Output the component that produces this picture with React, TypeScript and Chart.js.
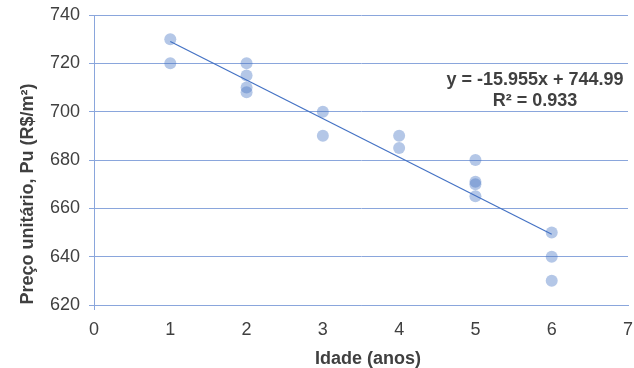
import React, { useEffect, useRef } from "react";
import { Chart, registerables } from "chart.js";

Chart.register(...registerables);

const idade: number[] = [1, 1, 2, 2, 2, 2, 3, 3, 4, 4, 5, 5, 5, 5, 6, 6, 6];
const precoUnitario: number[] = [730, 720, 720, 715, 710, 708, 700, 690, 690, 685, 680, 671, 670, 665, 650, 640, 630];
const trendSlope = -15.955;
const trendIntercept = 744.99;
const trendX: number[] = [1, 6];
const equationLines: string[] = ["y = -15.955x + 744.99", "R² = 0.933"];
const xTitle = "Idade (anos)";
const yTitle = "Preço unitário, Pu (R$/m²)";

const AXIS_COLOR = "#8aa6dc";
const TEXT_COLOR = "#404040";
const FONT_FAMILY = "'Liberation Sans', Arial, sans-serif";

export default function App() {
  const ref = useRef<HTMLCanvasElement | null>(null);

  useEffect(() => {
    document.body.style.margin = "0";
    const canvas = ref.current;
    if (!canvas) return;

    const textPlugin = {
      id: "textPlugin",
      afterDraw(chart: any) {
        const ctx = chart.ctx;
        const area = chart.chartArea;
        ctx.save();
        ctx.fillStyle = TEXT_COLOR;
        ctx.font = `bold 18px ${FONT_FAMILY}`;
        ctx.textAlign = "center";
        ctx.textBaseline = "alphabetic";
        // equation
        const ex = area.right - 93;
        ctx.fillText(equationLines[0], ex, area.top + 70);
        ctx.fillText(equationLines[1], ex, area.top + 91);
        // x title
        ctx.fillText(xTitle, (area.left + area.right) / 2 + 7, 364);
        // y title
        ctx.translate(33, 194);
        ctx.rotate(-Math.PI / 2);
        ctx.fillText(yTitle, 0, 0);
        ctx.restore();
      },
    };

    const chart = new Chart(canvas, {
      type: "scatter",
      data: {
        datasets: [
          {
            type: "scatter",
            data: idade.map((x, i) => ({ x, y: precoUnitario[i] })),
            backgroundColor: "rgba(68,114,196,0.4)",
            borderWidth: 0,
            pointRadius: 6,
            pointHoverRadius: 6,
            order: 2,
          },
          {
            type: "line",
            data: trendX.map((x) => ({ x, y: trendSlope * x + trendIntercept })),
            borderColor: "#4472C4",
            borderWidth: 1.2,
            pointRadius: 0,
            fill: false,
            order: 1,
          } as any,
        ],
      },
      options: {
        animation: false,
        responsive: false,
        maintainAspectRatio: false,
        layout: { padding: { left: 0, right: 5, top: 15, bottom: 0 } },
        plugins: {
          legend: { display: false },
          tooltip: { enabled: false },
        },
        scales: {
          x: {
            type: "linear",
            min: 0,
            max: 7,
            ticks: {
              stepSize: 1,
              color: TEXT_COLOR,
              font: { family: FONT_FAMILY, size: 18 },
              padding: 9,
            },
            grid: {
              drawOnChartArea: false,
              drawTicks: true,
              tickLength: 5,
              color: (c: any) => (c.index === 0 ? AXIS_COLOR : "rgba(0,0,0,0)"),
            },
            border: { display: true, color: AXIS_COLOR, width: 1 },
            afterFit: (scale: any) => {
              scale.height = 63;
              scale.paddingLeft = 0;
              scale.paddingRight = 0;
            },
          },
          y: {
            min: 620,
            max: 740,
            ticks: {
              stepSize: 20,
              color: TEXT_COLOR,
              font: { family: FONT_FAMILY, size: 18 },
              padding: 9,
            },
            grid: {
              color: AXIS_COLOR,
              lineWidth: 1,
              drawTicks: true,
              tickLength: 5,
            },
            border: { display: true, color: AXIS_COLOR, width: 1 },
            afterFit: (scale: any) => {
              scale.width = 94;
              scale.paddingTop = 0;
              scale.paddingBottom = 0;
            },
          },
        },
      },
      plugins: [textPlugin],
    });

    return () => chart.destroy();
  }, []);

  return (
    <div style={{ width: 634, height: 368, background: "#fff" }}>
      <canvas ref={ref} width={634} height={368} style={{ display: "block" }} />
    </div>
  );
}
